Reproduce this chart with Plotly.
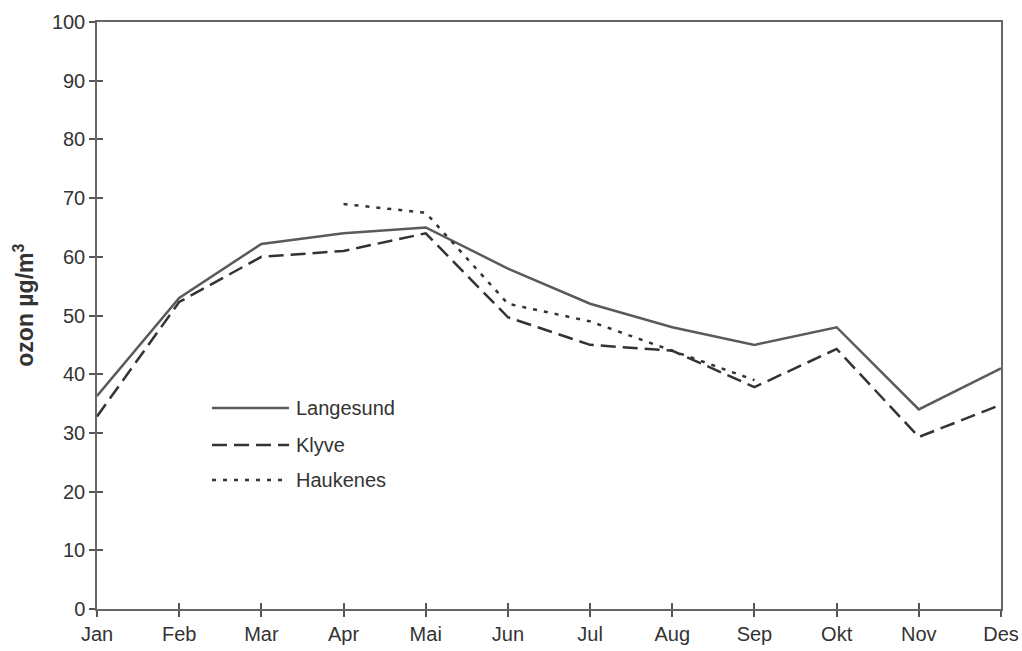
import plotly.graph_objects as go

months = ["Jan", "Feb", "Mar", "Apr", "Mai", "Jun", "Jul", "Aug", "Sep", "Okt", "Nov", "Des"]
langesund = [36.3, 53, 62.2, 64, 65, 58, 52, 48, 45, 48, 34, 41]
klyve = [32.8, 52.3, 60, 61, 64, 49.7, 45, 44, 37.8, 44.3, 29.3, 34.8]
haukenes = [None, None, None, 69, 67.5, 52, 49, 44, 39, None, None, None]

series = [
    ("Langesund", langesund, "solid", "#5a5a5a"),
    ("Klyve", klyve, "15px,7px", "#333333"),
    ("Haukenes", haukenes, "4px,7px", "#333333"),
]

xpos = list(range(len(months)))
FONT = "Liberation Sans, Arial, sans-serif"

fig = go.Figure()
for name, vals, dash, col in series:
    fig.add_trace(go.Scatter(x=xpos, y=vals, mode="lines", name=name,
                             line=dict(color=col, width=2.5, dash=dash),
                             connectgaps=False, showlegend=False))

# invisible trace for overlay tick axes
fig.add_trace(go.Scatter(x=[0], y=[0], xaxis="x2", yaxis="y2", mode="lines",
                         line=dict(width=0), showlegend=False, hoverinfo="skip"))

axis_common = dict(showgrid=False, zeroline=False, automargin=False)
fig.update_layout(
    width=1022, height=651,
    margin=dict(l=97, r=21, t=22, b=42),
    paper_bgcolor="white", plot_bgcolor="white",
    font=dict(family=FONT, size=20, color="#333333"),
    xaxis=dict(range=[0, 11], tickmode="array", tickvals=xpos, ticktext=months,
               ticks="outside", ticklen=6, tickcolor="#555", tickwidth=1.5,
               showline=True, linecolor="#666", linewidth=1.5, mirror=True,
               tickfont=dict(size=20, color="#333"), **axis_common),
    yaxis=dict(range=[0, 100], tickmode="linear", tick0=0, dtick=10,
               ticks="outside", ticklen=6, tickcolor="#555", tickwidth=1.5,
               showline=True, linecolor="#666", linewidth=1.5, mirror=True,
               tickfont=dict(size=20, color="#333"), **axis_common),
    xaxis2=dict(range=[0, 11], tickmode="array", tickvals=xpos, overlaying="x",
                anchor="y2", ticks="inside", ticklen=6, tickcolor="#555", tickwidth=1.5,
                showticklabels=False, showline=False, **axis_common),
    yaxis2=dict(range=[0, 100], tickmode="linear", tick0=0, dtick=10, overlaying="y",
                anchor="x2", ticks="inside", ticklen=6, tickcolor="#555", tickwidth=1.5,
                showticklabels=False, showline=False, **axis_common),
)

# y axis title
fig.add_annotation(text="<b>ozon µg/m<sup>3</sup></b>", xref="paper", yref="paper",
                   x=-0.081, y=0.518, textangle=-90, showarrow=False,
                   xanchor="center", yanchor="middle",
                   font=dict(family=FONT, size=23, color="#333"))

# manual legend
plot_l, plot_r, plot_t, plot_b = 97, 1001, 22, 609
def px_x(px):
    return (px - plot_l) / (plot_r - plot_l)
def px_y(py):
    return (plot_b - py) / (plot_b - plot_t)

leg_y = [408, 445, 480]
for (name, vals, dash, col), py in zip(series, leg_y):
    fig.add_shape(type="line", xref="paper", yref="paper",
                  x0=px_x(212), x1=px_x(289), y0=px_y(py), y1=px_y(py),
                  line=dict(color=col, width=2.5, dash=dash))
    fig.add_annotation(text=name, xref="paper", yref="paper",
                       x=px_x(294), y=px_y(py), showarrow=False,
                       xanchor="left", yanchor="middle",
                       font=dict(family=FONT, size=20, color="#333"))

fig.write_html("out.html", config={"displayModeBar": False},
               post_script="document.documentElement.style.margin='0';"
                           "document.body.style.margin='0';"
                           "document.body.style.overflow='hidden';")
